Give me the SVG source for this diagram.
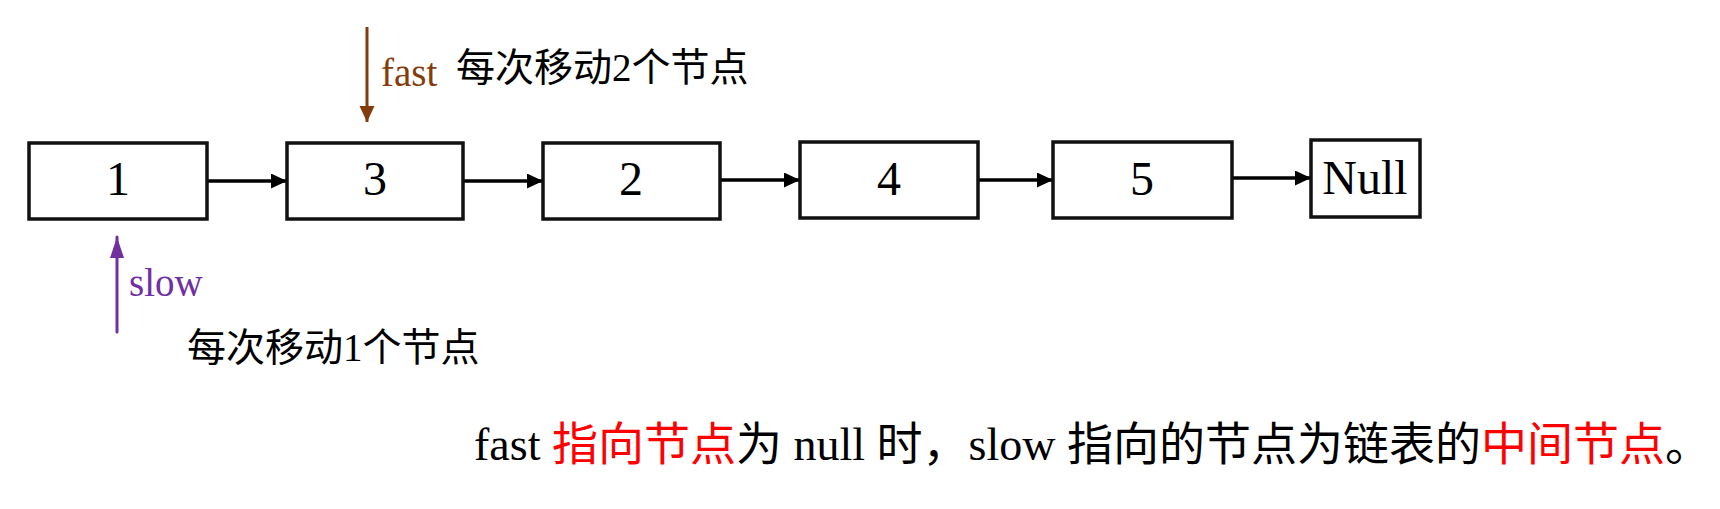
<svg xmlns="http://www.w3.org/2000/svg" width="1720" height="509" viewBox="0 0 1720 509">
<style>
.box{fill:#fff;stroke:#111;stroke-width:3.5}
.num{font-family:"Liberation Serif","Times New Roman",serif;font-size:48px;fill:#000;text-anchor:middle}
.lbl{font-family:"Liberation Serif","Noto Sans CJK SC",serif;fill:#000}
.link{stroke:#000;stroke-width:3.5;fill:none}
.red{fill:#ff0000}
</style>
<defs>
<marker id="ah" markerUnits="userSpaceOnUse" markerWidth="18" markerHeight="16" refX="16" refY="7.5" orient="auto"><path d="M0,0 L16,7.5 L0,15 Z" fill="#000"/></marker>
<marker id="ahb" markerUnits="userSpaceOnUse" markerWidth="18" markerHeight="16" refX="16" refY="7.5" orient="auto"><path d="M0,0 L16,7.5 L0,15 Z" fill="#843C0C"/></marker>
<marker id="ahp" markerUnits="userSpaceOnUse" markerWidth="22" markerHeight="16" refX="21" refY="7" orient="auto"><path d="M0,0 L21,7 L0,14 Z" fill="#7030A0"/></marker>
</defs>
<rect width="1720" height="509" fill="#fff"/>
<g id="connectors">
<line class="link" x1="207" y1="181" x2="287" y2="181" marker-end="url(#ah)"/>
<line class="link" x1="463" y1="181" x2="543" y2="181" marker-end="url(#ah)"/>
<line class="link" x1="720" y1="180" x2="800" y2="180" marker-end="url(#ah)"/>
<line class="link" x1="978" y1="180" x2="1053" y2="180" marker-end="url(#ah)"/>
<line class="link" x1="1232" y1="178" x2="1311" y2="178" marker-end="url(#ah)"/>
<line x1="367" y1="27" x2="367" y2="122" stroke="#843C0C" stroke-width="3" marker-end="url(#ahb)"/>
<line x1="117" y1="332" x2="117" y2="237" stroke="#7030A0" stroke-width="3" stroke-linecap="round" marker-end="url(#ahp)"/>
</g>
<g id="node1"><rect class="box" x="29" y="143" width="178" height="76"/><text class="num" x="118" y="195">1</text></g>
<g id="node3"><rect class="box" x="287" y="143" width="176" height="76"/><text class="num" x="375" y="195">3</text></g>
<g id="node2"><rect class="box" x="543" y="143" width="177" height="76"/><text class="num" x="631" y="195">2</text></g>
<g id="node4"><rect class="box" x="800" y="142" width="178" height="76"/><text class="num" x="889" y="195">4</text></g>
<g id="node5"><rect class="box" x="1053" y="142" width="179" height="76"/><text class="num" x="1142" y="195">5</text></g>
<g id="nodeNull"><rect class="box" x="1311" y="140" width="109" height="77"/><text class="num" x="1365" y="194">Null</text></g>
<g id="labels">
<text x="381" y="86" font-family="Liberation Serif, serif" font-size="39" fill="#843C0C">fast</text>
<text class="lbl" x="456" y="81" font-size="39">每次移动2个节点</text>
<text x="129" y="296" font-family="Liberation Serif, serif" font-size="39" fill="#7030A0">slow</text>
<text class="lbl" x="187" y="361" font-size="39">每次移动1个节点</text>
<text class="lbl" x="474" y="460" font-size="46">fast <tspan class="red">指向节点</tspan>为 null 时，slow 指向的节点为链表的<tspan class="red">中间节点</tspan>。</text>
</g>
</svg>
